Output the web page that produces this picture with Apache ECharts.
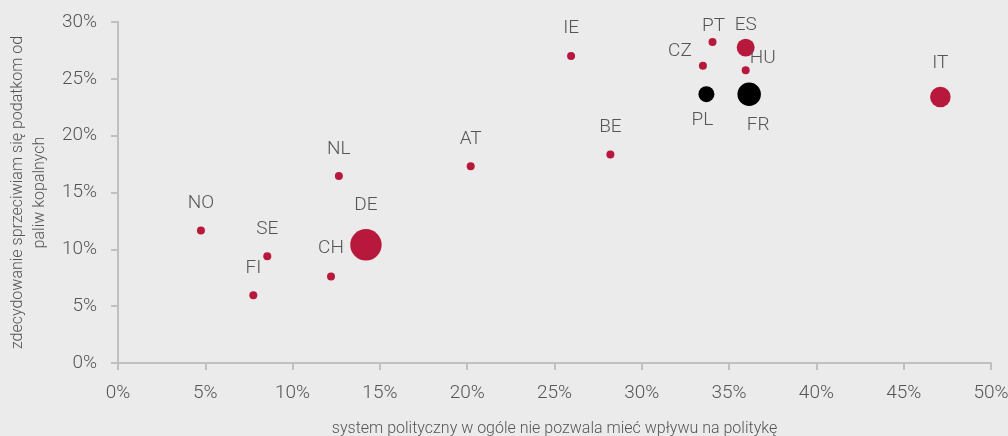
<!DOCTYPE html>
<html>
<head>
<meta charset="utf-8">
<style>
  html, body { margin: 0; padding: 0; background: #ebebeb; }
  #chart { width: 1008px; height: 436px; }
</style>
<script src="https://cdn.jsdelivr.net/npm/echarts@6/dist/echarts.min.js"></script>
</head>
<body>
<div id="chart"></div>
<script>
// kraje i wartości
const countries = ['NO', 'SE', 'FI', 'NL', 'CH', 'DE', 'AT', 'IE', 'BE', 'CZ', 'PT', 'ES', 'HU', 'PL', 'FR', 'IT'];
const xValues = [4.75, 8.55, 7.75, 12.65, 12.2, 14.2, 20.2, 25.95, 28.2, 33.5, 34.05, 35.95, 35.95, 33.7, 36.15, 47.1];
const yValues = [11.65, 9.4, 5.95, 16.45, 7.6, 10.4, 17.3, 27.0, 18.35, 26.15, 28.25, 27.75, 25.75, 23.65, 23.65, 23.4];
const weights = [1, 1, 1, 1, 1, 15.4, 1, 1, 1, 1, 1, 5, 1, 4, 8.6, 6.6];
const darkCountries = ['PL', 'FR'];
const xTicks = [0, 5, 10, 15, 20, 25, 30, 35, 40, 45, 50];
const yTicks = [0, 5, 10, 15, 20, 25, 30];

const RED = '#b8183b';
const TEXT = '#555555';
const FONT = 'Roboto, sans-serif';

// przesunięcia etykiet względem środka punktu
const labelOffsets = {
  NO: [0, -27], SE: [0, -27], FI: [0, -27], NL: [0, -27], CH: [0, -28],
  DE: [0, -40], AT: [0, -27], IE: [0, -28], BE: [0, -27], CZ: [-23, -15],
  PT: [1, -16], ES: [0, -22], HU: [17, -12], PL: [-4, 26], FR: [9, 31], IT: [0, -34],
};

const points = countries.map((name, i) => ({
  name,
  value: [xValues[i], yValues[i], weights[i]],
  itemStyle: { color: darkCountries.includes(name) ? '#000000' : RED, opacity: 1 },
  label: { offset: labelOffsets[name] },
}));

const chart = echarts.init(document.getElementById('chart'));
chart.setOption({
  backgroundColor: '#ebebeb',
  animation: false,
  grid: { left: 118, right: 17, top: 22, bottom: 73, outerBoundsMode: 'none', containLabel: false },
  xAxis: {
    type: 'value',
    min: xTicks[0],
    max: xTicks[xTicks.length - 1],
    interval: 5,
    name: 'system polityczny w ogóle nie pozwala mieć wpływu na politykę',
    nameLocation: 'middle',
    nameGap: 58,
    nameTextStyle: { color: TEXT, fontSize: 16, fontWeight: 300, fontFamily: FONT },
    axisLine: { lineStyle: { color: '#c0c0c0', width: 2 } },
    axisTick: { show: true, length: 7, lineStyle: { color: '#c0c0c0', width: 2 } },
    splitLine: { show: false },
    axisLabel: {
      margin: 21, color: TEXT, fontSize: 19, fontWeight: 300, fontFamily: FONT,
      formatter: v => v + '%',
    },
  },
  yAxis: {
    type: 'value',
    min: yTicks[0],
    max: yTicks[yTicks.length - 1],
    interval: 5,
    name: 'zdecydowanie sprzeciwiam się podatkom od\npaliw kopalnych',
    nameLocation: 'middle',
    nameGap: 65,
    nameTextStyle: { color: TEXT, fontSize: 16, fontWeight: 300, fontFamily: FONT, lineHeight: 22 },
    axisLine: { show: true, lineStyle: { color: '#c0c0c0', width: 2 } },
    axisTick: { show: true, length: 7, lineStyle: { color: '#c0c0c0', width: 2 } },
    splitLine: { show: false },
    axisLabel: {
      margin: 21, color: TEXT, fontSize: 19, fontWeight: 300, fontFamily: FONT,
      formatter: v => v + '%',
    },
  },
  series: [{
    type: 'scatter',
    data: points,
    symbolSize: d => 8 * Math.sqrt(d[2]),
    label: {
      show: true,
      position: 'inside',
      formatter: p => p.name,
      color: TEXT,
      fontSize: 19,
      fontWeight: 300,
      fontFamily: FONT,
    },
  }],
});
</script>
</body>
</html>
